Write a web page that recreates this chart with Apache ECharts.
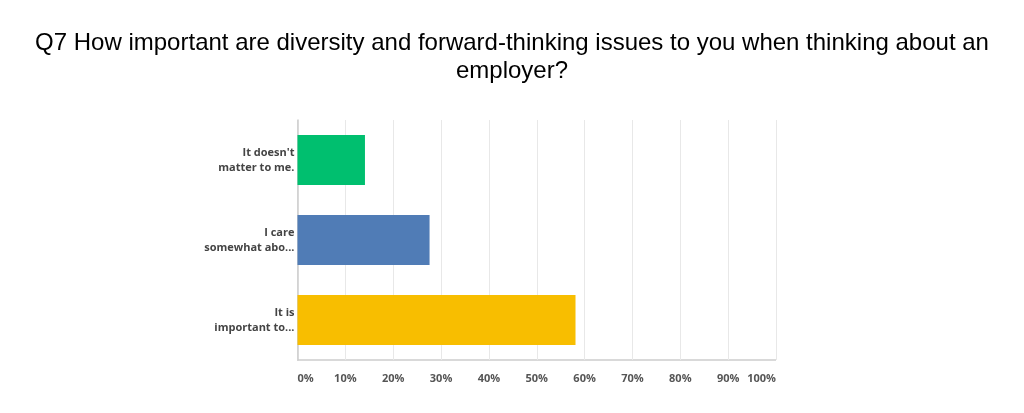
<!DOCTYPE html>
<html>
<head>
<meta charset="utf-8">
<script src="https://cdn.jsdelivr.net/npm/echarts@6/dist/echarts.min.js"></script>
<style>
  html, body { margin: 0; padding: 0; background: #fff; }
  #main { width: 1024px; height: 413px; }
</style>
</head>
<body>
<div id="main"></div>
<script>
// answers, bottom to top as echarts draws them
var categories = ["It is\nimportant to...", "I care\nsomewhat abo...", "It doesn't\nmatter to me."];
var values = [58.1, 27.6, 14.1];
var barColors = ['#f8be00', '#507cb6', '#00bf6f'];
var tickLabels = ['0%', '10%', '20%', '30%', '40%', '50%', '60%', '70%', '80%', '90%', '100%'];

var chart = echarts.init(document.getElementById('main'));
chart.setOption({
    title: {
        text: 'Q7 How important are diversity and forward-thinking issues to you when thinking about an\nemployer?',
        left: 'center',
        top: 24,
        textStyle: {
            fontFamily: 'Liberation Sans',
            fontWeight: 'normal',
            fontSize: 24,
            lineHeight: 28,
            color: '#000'
        }
    },
    grid: { left: 297.5, right: 248, top: 120, bottom: 53 },
    xAxis: {
        type: 'value',
        min: 0, max: 100, interval: 10,
        axisLine: { show: false },
        axisTick: { show: false },
        splitLine: { lineStyle: { color: '#e8e8e8', width: 1 } },
        axisLabel: {
            margin: 13,
            color: '#555',
            fontFamily: 'Open Sans',
            fontWeight: 'bold',
            fontSize: 11,
            alignMinLabel: 'left',
            alignMaxLabel: 'right',
            formatter: function (v) { return tickLabels[Math.round(v / 10)]; }
        }
    },
    yAxis: {
        type: 'category',
        data: categories,
        axisLine: { show: true, lineStyle: { color: '#cccccc', width: 1.5 } },
        axisTick: { show: false },
        axisLabel: {
            margin: 3,
            align: 'right',
            color: '#444',
            fontFamily: 'Open Sans',
            fontWeight: 'bold',
            fontSize: 11,
            lineHeight: 15
        }
    },
    series: [{
        type: 'bar',
        barWidth: 50,
        data: values.map(function (v, i) {
            return { value: v, itemStyle: { color: barColors[i] } };
        }),
        silent: true
    }],
    graphic: [{
        type: 'line',
        shape: { x1: 297, y1: 360, x2: 776, y2: 360 },
        style: { stroke: '#cccccc', lineWidth: 1.5 }
    }]
});
</script>
</body>
</html>
